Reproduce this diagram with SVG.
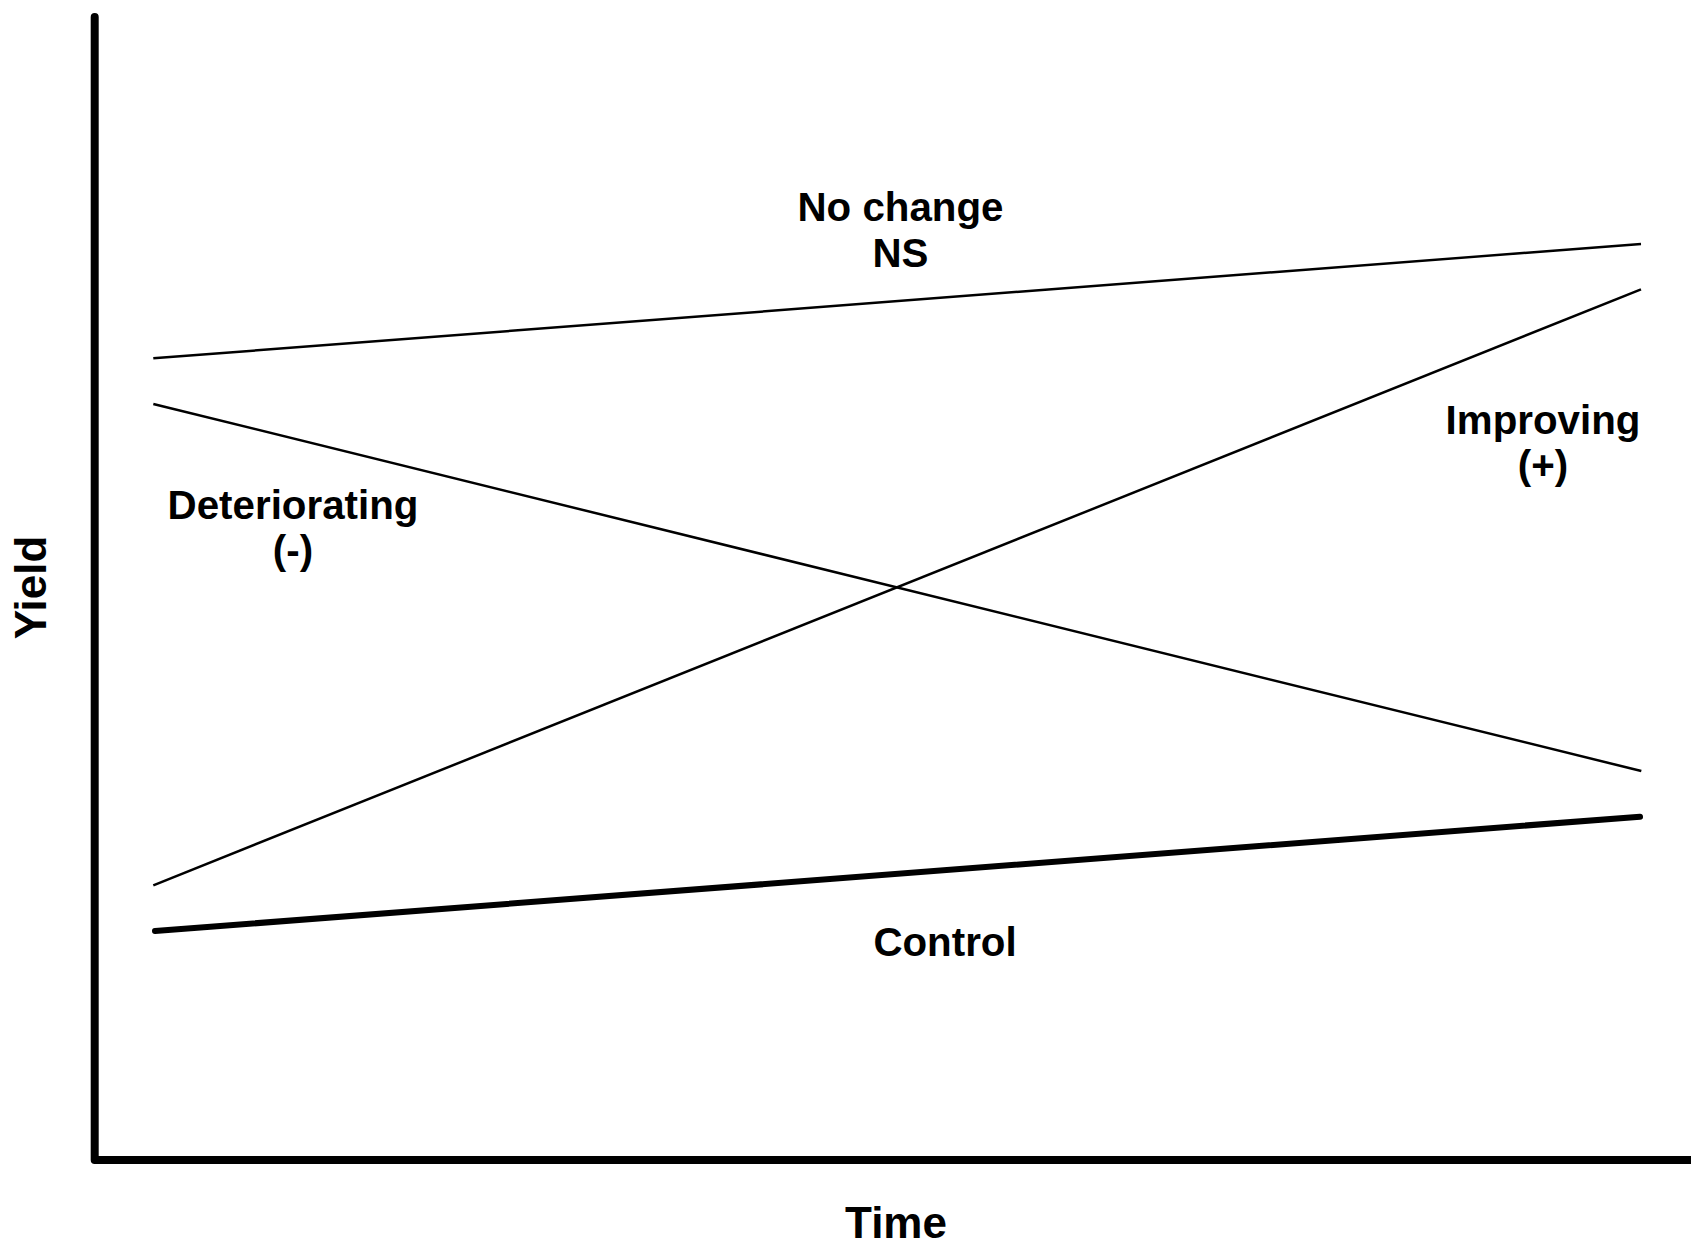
<svg xmlns="http://www.w3.org/2000/svg" width="1691" height="1244" viewBox="0 0 1691 1244">
<style>
.lbl{font-family:"Liberation Sans",Arial,sans-serif;font-weight:bold;font-size:40.3px;fill:#000;text-anchor:middle}
.ax{font-family:"Liberation Sans",Arial,sans-serif;font-weight:bold;font-size:44px;fill:#000;text-anchor:middle}
.thin{stroke:#000;stroke-width:2.5;fill:none}
</style>
<rect width="1691" height="1244" fill="#fff"/>
<g id="axes">
<path d="M94.7,17 L94.7,1160 L1695,1160" fill="none" stroke="#000" stroke-width="8" stroke-linecap="round" stroke-linejoin="round"/>
<text class="ax" x="896" y="1237.5">Time</text>
<text class="ax" transform="translate(46,587.5) rotate(-90)" x="0" y="0">Yield</text>
</g>
<g id="connectors">
<line id="nochange-line" class="thin" x1="153.3" y1="358.3" x2="1641" y2="244"/>
<line id="deteriorating-line" class="thin" x1="153.3" y1="404" x2="1641.3" y2="771"/>
<line id="improving-line" class="thin" x1="153.3" y1="885.3" x2="1641" y2="289.3"/>
<line id="control-line" x1="155" y1="931" x2="1640" y2="816.7" stroke="#000" stroke-width="6" stroke-linecap="round"/>
</g>
<g id="nochange">
<text class="lbl" x="900.5" y="221">No change</text>
<text class="lbl" x="900.5" y="267">NS</text>
</g>
<g id="deteriorating">
<text class="lbl" x="293" y="519">Deteriorating</text>
<text class="lbl" x="293" y="564">(-)</text>
</g>
<g id="improving">
<text class="lbl" x="1543" y="433.5">Improving</text>
<text class="lbl" x="1543" y="478.5">(+)</text>
</g>
<g id="control">
<text class="lbl" x="945" y="956">Control</text>
</g>
</svg>
